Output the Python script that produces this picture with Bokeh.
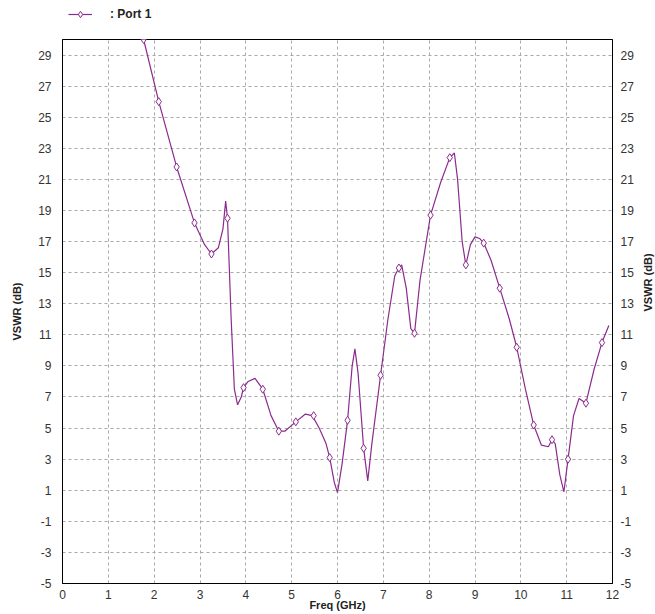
import math
from bokeh.plotting import figure
from bokeh.layouts import column
from bokeh.models import LinearAxis, FixedTicker, Legend, LegendItem, Range1d, PrintfTickFormatter
from bokeh.embed import file_html
from bokeh.resources import INLINE

# curve (freq GHz, VSWR dB)
curve_x = [1.77, 2.1, 2.49, 2.88, 3.1, 3.25, 3.4, 3.5, 3.56, 3.6, 3.68, 3.75, 3.82, 3.9,
           3.95, 4.05, 4.2, 4.37, 4.55, 4.72, 4.85, 5.09, 5.3, 5.45, 5.6, 5.75, 5.83, 5.93,
           6.0, 6.1, 6.22, 6.32, 6.38, 6.45, 6.57, 6.66, 6.75, 6.94, 7.1, 7.25, 7.34, 7.4,
           7.5, 7.6, 7.68, 7.8, 8.03, 8.25, 8.45, 8.55, 8.62, 8.72, 8.8, 8.9, 9.0, 9.1,
           9.19, 9.35, 9.54, 9.75, 9.91, 10.1, 10.28, 10.45, 10.6, 10.68, 10.75, 10.85,
           10.94, 11.03, 11.15, 11.27, 11.42, 11.6, 11.77, 11.92]
curve_y = [30.0, 26.0, 21.8, 18.2, 16.8, 16.2, 16.6, 17.8, 19.6, 18.5, 12.0, 7.5, 6.5, 7.0,
           7.6, 8.0, 8.2, 7.5, 5.8, 4.8, 4.8, 5.4, 5.9, 5.8, 5.0, 4.0, 3.1, 1.5,
           0.85, 2.7, 5.5, 9.0, 10.1, 8.5, 3.7, 1.6, 4.0, 8.4, 12.0, 14.8, 15.3, 15.5,
           14.0, 11.4, 11.1, 14.5, 18.7, 20.8, 22.4, 22.7, 21.0, 17.0, 15.5, 16.8, 17.3, 17.2,
           16.9, 15.8, 14.0, 12.0, 10.2, 7.5, 5.2, 3.9, 3.8, 4.25, 4.0, 2.0,
           0.9, 3.0, 5.8, 6.9, 6.6, 8.8, 10.5, 11.6]

# marker points
mark_x = [1.77, 2.1, 2.49, 2.88, 3.25, 3.6, 3.95, 4.37, 4.72, 5.09, 5.48, 5.83, 6.22, 6.57,
          6.94, 7.34, 7.68, 8.03, 8.45, 8.8, 9.19, 9.54, 9.91, 10.28, 10.68, 11.03, 11.42, 11.77]
mark_y = [30.0, 26.0, 21.8, 18.2, 16.2, 18.5, 7.6, 7.5, 4.8, 5.4, 5.8, 3.1, 5.5, 3.7,
          8.4, 15.3, 11.1, 18.7, 22.4, 15.5, 16.9, 14.0, 10.2, 5.2, 4.25, 3.0, 6.6, 10.5]

x_ticks = list(range(0, 13))
y_ticks = list(range(-5, 30, 2))

COL = "#8b2b8e"
FONT = "Liberation Sans"

# ---- legend strip (its renderers sit outside the strip's ranges, only the key shows) ----
lf = figure(width=646, height=39, output_backend="svg", toolbar_location=None,
            x_range=Range1d(0, 1), y_range=Range1d(0, 1),
            min_border_left=47, min_border_right=0, min_border_top=0, min_border_bottom=0)
lf.axis.visible = False
lf.grid.visible = False
lf.outline_line_color = None
lf.background_fill_color = "white"
lf.border_fill_color = "white"
l_line = lf.line(x=mark_x[:2], y=mark_y[:2], line_color=COL, line_width=1.2)
l_mark = lf.scatter(x=mark_x[:2], y=mark_y[:2], marker="diamond", size=8, line_color=COL,
                    fill_color="white", line_width=1)
legend = Legend(items=[LegendItem(label=": Port 1", renderers=[l_line, l_mark])],
                location="top_left", border_line_color=None, background_fill_alpha=0,
                label_text_font=FONT, label_text_font_size="12px",
                label_text_font_style="bold", label_text_color="#222222",
                glyph_width=24, glyph_height=16, label_height=16,
                padding=0, margin=6, label_standoff=18)
lf.add_layout(legend, "center")

# ---- main plot ----
p = figure(frame_width=550, frame_height=544, output_backend="svg", toolbar_location=None,
           x_range=Range1d(0, 12), y_range=Range1d(-5, 30),
           min_border_left=62, min_border_right=10, min_border_top=0, min_border_bottom=10,
           x_axis_label="Freq (GHz)", y_axis_label="VSWR (dB)")
p.background_fill_color = "white"
p.border_fill_color = "white"
p.outline_line_color = "black"
p.outline_line_width = 1

p.line(curve_x, curve_y, line_color=COL, line_width=1.2)
p.scatter(mark_x, mark_y, marker="diamond", size=8, line_color=COL,
          fill_color="white", line_width=1)

right = LinearAxis(axis_label="VSWR (dB)")
p.add_layout(right, "right")

for ax in [p.xaxis[0], p.yaxis[0], right]:
    ax.major_tick_in = 0
    ax.major_tick_out = 0
    ax.minor_tick_in = 0
    ax.minor_tick_out = 0
    ax.axis_line_color = "black"
    ax.major_label_text_font = FONT
    ax.major_label_text_font_size = "12px"
    ax.major_label_text_color = "#333333"
    ax.axis_label_text_font = FONT
    ax.axis_label_text_font_size = "11px"
    ax.axis_label_text_font_style = "bold"
    ax.axis_label_text_color = "#222222"
    ax.formatter = PrintfTickFormatter(format="%d")

p.xaxis[0].major_label_standoff = 6
p.xaxis[0].axis_label_standoff = -3
p.yaxis[0].major_label_standoff = 11
p.yaxis[0].axis_label_standoff = 12
right.major_label_standoff = 8
right.axis_label_standoff = 11
p.xaxis[0].ticker = FixedTicker(ticks=x_ticks)
p.yaxis[0].ticker = FixedTicker(ticks=y_ticks)
right.ticker = FixedTicker(ticks=y_ticks)
right.axis_label_orientation = math.pi / 2

p.xgrid.ticker = FixedTicker(ticks=x_ticks)
p.ygrid.ticker = FixedTicker(ticks=y_ticks)
for g in [p.xgrid[0], p.ygrid[0]]:
    g.grid_line_color = "#a8a8a8"
    g.grid_line_dash = "3 3"
    g.grid_line_width = 1

layout = column(lf, p, spacing=0)
open("out.html", "w").write(file_html(layout, INLINE))
